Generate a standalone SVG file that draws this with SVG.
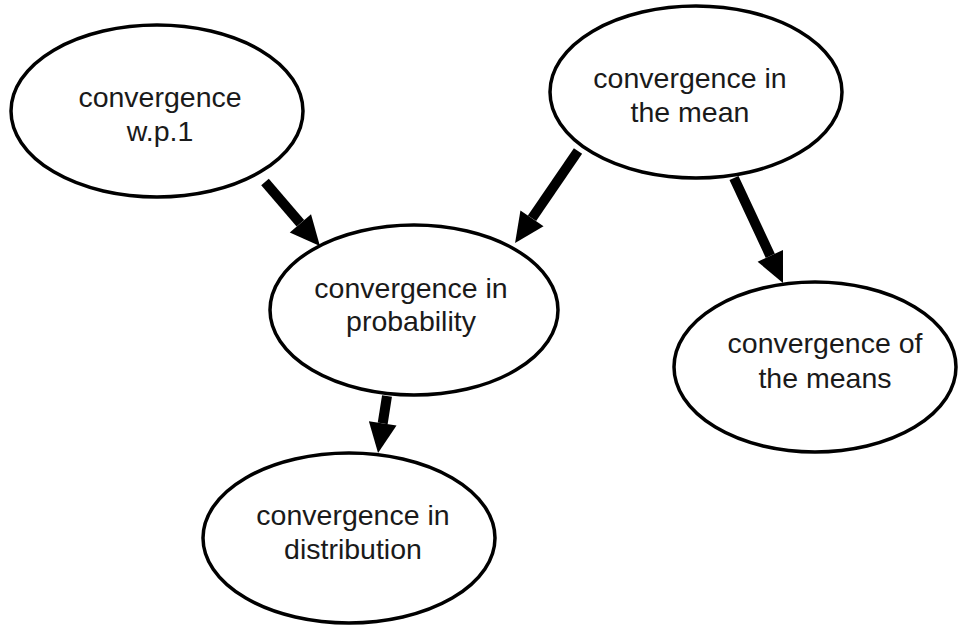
<svg xmlns="http://www.w3.org/2000/svg" width="958" height="626" viewBox="0 0 958 626">
<style>
.node ellipse{fill:#fff;stroke:#000;stroke-width:3.5}
.node text{font-family:"Liberation Sans",Arial,Helvetica,sans-serif;font-size:28.5px;fill:#1a1a1a;text-anchor:middle}
.edge{stroke:#000;stroke-width:10;fill:none;marker-end:url(#ah)}
</style>
<defs>
<marker id="ah" markerUnits="userSpaceOnUse" markerWidth="30" markerHeight="28" viewBox="0 -14 30 28" refX="0" refY="0" orient="auto" overflow="visible">
<path d="M0,-14 L30,0 L0,14 z" fill="#000"/>
</marker>
</defs>
<rect width="958" height="626" fill="#fff"/>
<g id="n1" class="node"><ellipse cx="157" cy="111" rx="146" ry="86"/><text x="160" y="107">convergence</text><text x="160" y="141">w.p.1</text></g>
<g id="n2" class="node"><ellipse cx="696" cy="92" rx="146" ry="86"/><text x="690" y="88">convergence in</text><text x="690" y="122">the mean</text></g>
<g id="n3" class="node"><ellipse cx="414" cy="310" rx="144" ry="85"/><text x="411" y="298">convergence in</text><text x="411" y="331">probability</text></g>
<g id="n4" class="node"><ellipse cx="815" cy="367" rx="141" ry="85"/><text x="825" y="353">convergence of</text><text x="825" y="388">the means</text></g>
<g id="n5" class="node"><ellipse cx="349" cy="538" rx="146" ry="85"/><text x="353" y="525">convergence in</text><text x="353" y="559">distribution</text></g>
<g id="connectors">
<line class="edge" x1="265" y1="182" x2="300.4" y2="223.3"/>
<line class="edge" x1="578" y1="151" x2="532" y2="218.3"/>
<line class="edge" x1="734" y1="178" x2="770.3" y2="255.8"/>
<line class="edge" x1="387" y1="396" x2="382.7" y2="423.4"/>
</g>
</svg>
